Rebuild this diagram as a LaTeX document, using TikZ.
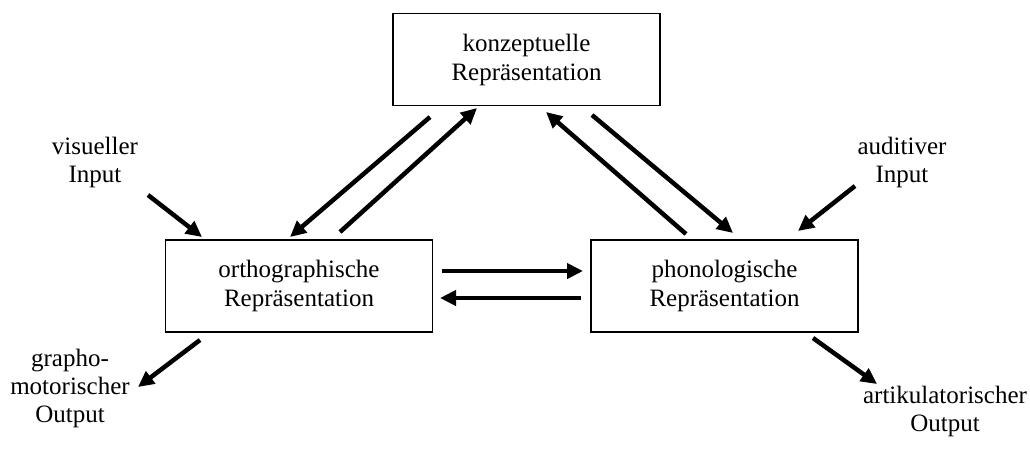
\documentclass[tikz,border=0pt]{standalone}
\usepackage{fontspec}
\setmainfont{Liberation Serif}
\usetikzlibrary{arrows.meta}
\begin{document}
\begin{tikzpicture}[x=1pt,y=-1pt,
  box/.style={draw,line width=1.6pt,minimum width=267pt,minimum height=92pt,inner sep=0pt,align=center,font=\fontsize{25}{29}\selectfont},
  lbl/.style={align=center,inner sep=0pt,font=\fontsize{25}{28}\selectfont},
  arr/.style={line width=4.5pt,-{Triangle[length=16pt,width=15pt]}}]
\useasboundingbox (0,0) rectangle (1030,448);
\node[box] (top) at (526.5,59.5) {konzeptuelle\\Repräsentation};
\node[box] (ortho) at (299,286) {orthographische\\Repräsentation};
\node[box] (phon) at (724.5,286) {phonologische\\Repräsentation};
\node[lbl] (vis) at (95,162) {visueller\\Input};
\node[lbl] (aud) at (902,162) {auditiver\\Input};
\node[lbl] (graph) at (70,388) {grapho-\\motorischer\\Output};
\node[lbl] (art) at (945,411) {artikulatorischer\\Output};
% endpoints
\coordinate (t1) at (430,117); \coordinate (o1) at (290,237);
\coordinate (o2) at (340,232); \coordinate (t2) at (477,108);
\coordinate (p3) at (686,234); \coordinate (t3) at (546,112);
\coordinate (t4) at (592,115); \coordinate (p4) at (733,233);
\coordinate (v5) at (148,195); \coordinate (o5) at (202,237);
\coordinate (a6) at (855,186); \coordinate (p6) at (798,231);
\coordinate (o7) at (442,271); \coordinate (p7) at (583,271);
\coordinate (p8) at (581,298); \coordinate (o8) at (440,298);
\coordinate (o9) at (200,340); \coordinate (g9) at (138,387);
\coordinate (p10) at (813,338); \coordinate (a10) at (877,384);
\draw[arr] (t1) -- (o1);
\draw[arr] (o2) -- (t2);
\draw[arr] (p3) -- (t3);
\draw[arr] (t4) -- (p4);
\draw[arr] (v5) -- (o5);
\draw[arr] (a6) -- (p6);
\draw[arr] (o7) -- (p7);
\draw[arr] (p8) -- (o8);
\draw[arr] (o9) -- (g9);
\draw[arr] (p10) -- (a10);
\end{tikzpicture}
\end{document}
